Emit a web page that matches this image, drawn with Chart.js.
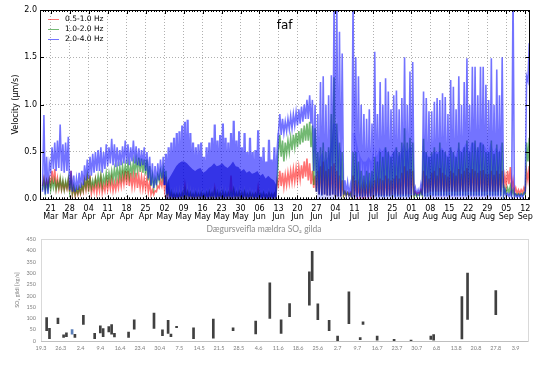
<!DOCTYPE html>
<html>
<head>
<meta charset="utf-8">
<script src="https://cdn.jsdelivr.net/npm/chart.js@4/dist/chart.umd.min.js"></script>
<style>
  body { margin: 0; background: #fff; width: 540px; height: 366px; overflow: hidden; }
  #velocityChart { position: absolute; left: 0; top: 0; }
  #so2Chart { position: absolute; left: 0; top: 222px; }
</style>
</head>
<body>
<canvas id="velocityChart" width="540" height="222"></canvas>
<canvas id="so2Chart" width="540" height="144"></canvas>
<script>
// Velocity: one low and one high value per day, first day 18 Mar (day 0 = 21 Mar)
const firstDay = -3;
const plotTitle = 'faf';
const bandLabels = ['0.5-1.0 Hz', '1.0-2.0 Hz', '2.0-4.0 Hz'];
const tickDays = ['21', '28', '04', '11', '18', '25', '02', '09', '16', '23', '30', '06', '13',
                  '20', '27', '04', '11', '18', '25', '01', '08', '15', '22', '29', '05', '12'];
const tickMonths = ['Mar', 'Mar', 'Apr', 'Apr', 'Apr', 'Apr', 'May', 'May', 'May', 'May', 'May', 'Jun', 'Jun',
                    'Jun', 'Jun', 'Jul', 'Jul', 'Jul', 'Jul', 'Aug', 'Aug', 'Aug', 'Aug', 'Aug', 'Sep', 'Sep'];

const blueHigh = [0.89, 0.45, 0.38,
  0.55, 0.60, 0.62, 0.79, 0.58, 0.60, 0.66,   // 21 Mar
  0.30, 0.25, 0.22, 0.28, 0.30, 0.36, 0.42,   // 28 Mar
  0.45, 0.48, 0.50, 0.52, 0.55, 0.50, 0.58,   // 04 Apr
  0.55, 0.64, 0.58, 0.55, 0.52, 0.56, 0.62,   // 11 Apr
  0.58, 0.55, 0.62, 0.56, 0.54, 0.52, 0.55,   // 18 Apr
  0.50, 0.45, 0.38, 0.35, 0.38, 0.42, 0.45,   // 25 Apr
  0.48, 0.55, 0.60, 0.65, 0.70, 0.72, 0.78,   // 02 May
  0.82, 0.84, 0.70, 0.60, 0.55, 0.58, 0.60,   // 09 May
  0.45, 0.55, 0.60, 0.65, 0.79, 0.62, 0.68,   // 16 May
  0.80, 0.65, 0.60, 0.70, 0.83, 0.62, 0.72,   // 23 May
  0.55, 0.70, 0.50, 0.65, 0.50, 0.52, 0.73,   // 30 May
  0.45, 0.55, 0.40, 0.63, 0.42, 0.55, 0.45,   // 06 Jun
  0.90, 0.85, 0.82, 0.85, 0.88, 0.90, 0.92,   // 13 Jun
  0.95, 0.98, 1.00, 1.05, 1.10, 1.05, 1.00,   // 20 Jun
  0.90, 1.24, 1.30, 1.00, 1.10, 1.31, 2.10,   // 27 Jun
  2.10, 1.77, 1.54, 0.20, 0.18, 0.15, 2.10,   // 04 Jul
  1.50, 1.30, 1.00, 0.90, 0.85, 0.95, 0.80,   // 11 Jul
  1.56, 0.90, 1.24, 1.00, 1.28, 1.14, 0.95,   // 18 Jul
  1.10, 1.15, 0.95, 1.07, 1.50, 1.00, 1.35,   // 25 Jul
  1.45, 0.12, 0.10, 0.15, 1.14, 1.07, 0.93,   // 01 Aug
  0.93, 1.03, 1.07, 1.05, 1.12, 1.08, 0.90,   // 08 Aug
  1.26, 1.19, 0.95, 1.30, 1.00, 1.24, 1.49,   // 15 Aug
  1.00, 1.40, 1.40, 1.10, 1.40, 1.40, 1.21,   // 22 Aug
  1.05, 1.49, 1.00, 1.37, 1.10, 1.50, 0.10,   // 29 Aug
  0.06, 0.07, 2.20, 0.05, 0.05, 0.05, 0.06,   // 05 Sep
  1.30, 1.65];
const blueLow = [0.08, 0.05, 0.06,
  0.30, 0.32, 0.30, 0.33, 0.30, 0.28, 0.30,
  0.10, 0.08, 0.08, 0.10, 0.12, 0.15, 0.20,
  0.22, 0.25, 0.28, 0.30, 0.30, 0.28, 0.32,
  0.35, 0.38, 0.36, 0.34, 0.35, 0.36, 0.38,
  0.38, 0.36, 0.40, 0.38, 0.36, 0.35, 0.36,
  0.30, 0.22, 0.15, 0.12, 0.15, 0.20, 0.22,
  0.15, 0.06, 0.03, 0.02, 0.02, 0.02, 0.03,
  0.03, 0.04, 0.03, 0.03, 0.02, 0.03, 0.03,
  0.03, 0.03, 0.02, 0.03, 0.03, 0.02, 0.03,
  0.03, 0.02, 0.03, 0.03, 0.02, 0.03, 0.03,
  0.03, 0.02, 0.03, 0.02, 0.03, 0.02, 0.02,
  0.02, 0.01, 0.02, 0.01, 0.02, 0.01, 0.02,
  0.70, 0.68, 0.70, 0.72, 0.74, 0.75, 0.78,
  0.78, 0.80, 0.82, 0.85, 0.85, 0.80, 0.30,
  0.08, 0.05, 0.04, 0.05, 0.04, 0.04, 0.05,
  0.04, 0.03, 0.03, 0.05, 0.06, 0.05, 0.02,
  0.03, 0.02, 0.03, 0.02, 0.03, 0.02, 0.03,
  0.02, 0.03, 0.02, 0.03, 0.02, 0.03, 0.03,
  0.03, 0.02, 0.03, 0.02, 0.03, 0.03, 0.02,
  0.03, 0.04, 0.05, 0.05, 0.04, 0.03, 0.03,
  0.03, 0.03, 0.03, 0.03, 0.03, 0.03, 0.03,
  0.03, 0.03, 0.03, 0.03, 0.03, 0.03, 0.03,
  0.03, 0.03, 0.03, 0.03, 0.03, 0.03, 0.03,
  0.03, 0.03, 0.03, 0.03, 0.03, 0.03, 0.04,
  0.03, 0.03, 0.02, 0.02, 0.02, 0.02, 0.02,
  0.08, 1.25];
// top of the dense part of the blue band, from 2 May
const coreFirstDay = 42;
const blueCore = [
  0.12, 0.20, 0.25, 0.30, 0.35, 0.38, 0.40,   // 02 May
  0.40, 0.38, 0.35, 0.32, 0.30, 0.32, 0.33,   // 09 May
  0.28, 0.30, 0.33, 0.35, 0.38, 0.35, 0.36,   // 16 May
  0.38, 0.35, 0.33, 0.36, 0.40, 0.35, 0.34,   // 23 May
  0.30, 0.32, 0.28, 0.30, 0.27, 0.28, 0.30,   // 30 May
  0.25, 0.27, 0.22, 0.25, 0.22, 0.20, 0.15,   // 06 Jun
  null, null, null, null, null, null, null,   // 13 Jun
  null, null, null, null, null, null, null,   // 20 Jun
  0.35, 0.45, 0.50, 0.40, 0.45, 0.55, 0.80,   // 27 Jun
  0.80, 0.60, 0.50, null, null, null, 0.70,   // 04 Jul
  0.70, 0.55, 0.45, 0.40, 0.40, 0.45, 0.40,   // 11 Jul
  0.60, 0.45, 0.55, 0.50, 0.55, 0.50, 0.45,   // 18 Jul
  0.50, 0.55, 0.45, 0.50, 0.60, 0.50, 0.55,   // 25 Jul
  0.55, null, null, null, 0.50, 0.50, 0.45,   // 01 Aug
  0.45, 0.50, 0.50, 0.50, 0.55, 0.50, 0.45,   // 08 Aug
  0.55, 0.50, 0.45, 0.55, 0.50, 0.55, 0.60,   // 15 Aug
  0.50, 0.60, 0.60, 0.50, 0.60, 0.60, 0.55,   // 22 Aug
  0.50, 0.60, 0.50, 0.55, 0.50, 0.60, null];  // 29 Aug

const greenHigh = [0.20, 0.18, 0.20,
  0.20, 0.20, 0.18, 0.22, 0.20, 0.19, 0.22,
  0.20, 0.14, 0.12, 0.13, 0.15, 0.20, 0.25,
  0.22, 0.20, 0.22, 0.25, 0.26, 0.24, 0.28,
  0.28, 0.30, 0.32, 0.33, 0.34, 0.35, 0.36,
  0.38, 0.36, 0.40, 0.42, 0.44, 0.43, 0.42,
  0.42, 0.35, 0.25, 0.22, 0.26, 0.30, 0.32,
  0.30, 0.15, 0.08, 0.06, 0.06, 0.06, 0.07,
  0.10, 0.08, 0.07, 0.06, 0.07, 0.06, 0.07,
  0.06, 0.07, 0.08, 0.07, 0.09, 0.08, 0.07,
  0.08, 0.07, 0.07, 0.08, 0.10, 0.07, 0.08,
  0.07, 0.08, 0.06, 0.07, 0.06, 0.06, 0.08,
  0.06, 0.07, 0.05, 0.07, 0.06, 0.06, 0.20,
  0.68, 0.62, 0.60, 0.62, 0.65, 0.68, 0.70,
  0.72, 0.75, 0.78, 0.80, 0.82, 0.78, 0.75,
  0.50, 0.55, 0.60, 0.50, 0.55, 0.90, 1.29,
  0.80, 0.60, 0.50, 0.08, 0.07, 0.06, 0.50,
  0.50, 0.40, 0.30, 0.25, 0.30, 0.28, 0.30,
  0.45, 0.40, 0.50, 0.45, 0.55, 0.50, 0.45,
  0.50, 0.55, 0.50, 0.60, 0.75, 0.60, 0.65,
  0.60, 0.06, 0.05, 0.08, 0.64, 0.50, 0.45,
  0.50, 0.55, 0.48, 0.60, 0.52, 0.50, 0.45,
  0.55, 0.50, 0.45, 0.60, 0.50, 0.55, 0.62,
  0.50, 0.60, 0.62, 0.55, 0.60, 0.58, 0.50,
  0.50, 0.62, 0.48, 0.58, 0.50, 0.60, 0.12,
  0.12, 0.14, 0.10, 0.06, 0.06, 0.06, 0.07,
  0.60, 0.65];
const greenLow = [0.10, 0.08, 0.10,
  0.10, 0.12, 0.10, 0.12, 0.11, 0.10, 0.12,
  0.08, 0.06, 0.05, 0.06, 0.07, 0.09, 0.12,
  0.12, 0.12, 0.14, 0.15, 0.16, 0.14, 0.17,
  0.18, 0.19, 0.20, 0.21, 0.22, 0.23, 0.24,
  0.25, 0.24, 0.27, 0.28, 0.30, 0.29, 0.28,
  0.26, 0.20, 0.14, 0.12, 0.16, 0.20, 0.22,
  0.15, 0.04, 0.02, 0.02, 0.02, 0.02, 0.02,
  0.02, 0.02, 0.02, 0.02, 0.02, 0.02, 0.02,
  0.02, 0.02, 0.02, 0.02, 0.02, 0.02, 0.02,
  0.02, 0.02, 0.02, 0.02, 0.02, 0.02, 0.02,
  0.02, 0.02, 0.02, 0.02, 0.02, 0.02, 0.02,
  0.02, 0.02, 0.02, 0.02, 0.02, 0.02, 0.02,
  0.50, 0.45, 0.40, 0.48, 0.50, 0.52, 0.55,
  0.55, 0.58, 0.60, 0.62, 0.62, 0.55, 0.15,
  0.08, 0.05, 0.04, 0.05, 0.04, 0.04, 0.05,
  0.03, 0.03, 0.03, 0.04, 0.04, 0.04, 0.02,
  0.03, 0.03, 0.03, 0.03, 0.03, 0.03, 0.03,
  0.03, 0.03, 0.03, 0.03, 0.03, 0.03, 0.03,
  0.03, 0.03, 0.03, 0.03, 0.03, 0.03, 0.03,
  0.03, 0.03, 0.03, 0.04, 0.04, 0.03, 0.03,
  0.04, 0.04, 0.04, 0.04, 0.04, 0.04, 0.04,
  0.04, 0.04, 0.04, 0.04, 0.04, 0.04, 0.04,
  0.04, 0.04, 0.04, 0.04, 0.04, 0.04, 0.04,
  0.04, 0.04, 0.04, 0.04, 0.04, 0.04, 0.04,
  0.06, 0.07, 0.05, 0.04, 0.04, 0.04, 0.04,
  0.05, 0.40];

const redHigh = [0.22, 0.20, 0.22,
  0.30, 0.32, 0.22, 0.20, 0.18, 0.17, 0.20,
  0.30, 0.12, 0.10, 0.12, 0.14, 0.20, 0.22,
  0.25, 0.15, 0.20, 0.18, 0.22, 0.16, 0.20,
  0.20, 0.22, 0.18, 0.20, 0.24, 0.26, 0.30,
  0.30, 0.28, 0.26, 0.28, 0.25, 0.24, 0.22,
  0.22, 0.18, 0.10, 0.09, 0.14, 0.20, 0.24,
  0.24, 0.10, 0.06, 0.05, 0.05, 0.05, 0.06,
  0.15, 0.07, 0.06, 0.05, 0.06, 0.05, 0.06,
  0.05, 0.06, 0.07, 0.06, 0.12, 0.06, 0.06,
  0.07, 0.06, 0.06, 0.25, 0.10, 0.06, 0.07,
  0.06, 0.07, 0.05, 0.06, 0.05, 0.06, 0.13,
  0.05, 0.06, 0.05, 0.06, 0.05, 0.06, 0.20,
  0.30, 0.28, 0.26, 0.28, 0.30, 0.32, 0.33,
  0.34, 0.36, 0.40, 0.43, 0.38, 0.30, 0.25,
  0.30, 0.35, 0.40, 0.30, 0.32, 0.35, 0.38,
  0.30, 0.25, 0.20, 0.08, 0.07, 0.07, 0.25,
  0.20, 0.15, 0.12, 0.15, 0.12, 0.14, 0.15,
  0.20, 0.18, 0.22, 0.20, 0.25, 0.22, 0.20,
  0.22, 0.25, 0.22, 0.28, 0.35, 0.30, 0.32,
  0.30, 0.08, 0.07, 0.10, 0.30, 0.25, 0.22,
  0.28, 0.30, 0.25, 0.33, 0.28, 0.26, 0.24,
  0.30, 0.28, 0.25, 0.32, 0.27, 0.30, 0.33,
  0.28, 0.32, 0.30, 0.28, 0.30, 0.31, 0.27,
  0.27, 0.30, 0.26, 0.30, 0.27, 0.30, 0.25,
  0.30, 0.34, 0.20, 0.12, 0.10, 0.10, 0.12,
  0.30, 0.35];
const redLow = [0.14, 0.12, 0.14,
  0.15, 0.16, 0.12, 0.11, 0.10, 0.10, 0.11,
  0.08, 0.05, 0.04, 0.05, 0.06, 0.08, 0.10,
  0.08, 0.06, 0.08, 0.07, 0.09, 0.07, 0.09,
  0.10, 0.11, 0.09, 0.10, 0.12, 0.14, 0.16,
  0.15, 0.14, 0.13, 0.14, 0.12, 0.12, 0.11,
  0.11, 0.08, 0.05, 0.05, 0.08, 0.12, 0.14,
  0.10, 0.03, 0.02, 0.02, 0.02, 0.02, 0.02,
  0.02, 0.02, 0.02, 0.02, 0.02, 0.02, 0.02,
  0.02, 0.02, 0.02, 0.02, 0.02, 0.02, 0.02,
  0.02, 0.02, 0.02, 0.02, 0.02, 0.02, 0.02,
  0.02, 0.02, 0.02, 0.02, 0.02, 0.02, 0.02,
  0.02, 0.02, 0.02, 0.02, 0.02, 0.02, 0.02,
  0.15, 0.14, 0.13, 0.15, 0.17, 0.18, 0.19,
  0.20, 0.21, 0.22, 0.24, 0.20, 0.16, 0.12,
  0.08, 0.05, 0.05, 0.05, 0.04, 0.04, 0.05,
  0.03, 0.03, 0.03, 0.04, 0.04, 0.04, 0.02,
  0.03, 0.03, 0.03, 0.03, 0.03, 0.03, 0.03,
  0.04, 0.04, 0.04, 0.04, 0.04, 0.04, 0.04,
  0.05, 0.05, 0.05, 0.05, 0.05, 0.05, 0.05,
  0.05, 0.05, 0.05, 0.06, 0.06, 0.06, 0.07,
  0.08, 0.08, 0.08, 0.08, 0.08, 0.08, 0.08,
  0.08, 0.08, 0.08, 0.08, 0.08, 0.08, 0.08,
  0.08, 0.08, 0.08, 0.08, 0.08, 0.08, 0.08,
  0.08, 0.08, 0.08, 0.08, 0.08, 0.08, 0.12,
  0.14, 0.16, 0.10, 0.07, 0.06, 0.06, 0.07,
  0.08, 0.20];

// SO2: daily low/high, dates as day.month
const so2Title = 'Dægursveifla mældra SO₂ gilda';
const so2AxisTitle = 'SO₂ gildi [kg/s]';
const so2Ticks = ['19.3', '26.3', '2.4', '9.4', '16.4', '23.4', '30.4', '7.5', '14.5', '21.5', '28.5', '4.6', '11.6',
                  '18.6', '25.6', '2.7', '9.7', '16.7', '23.7', '30.7', '6.8', '13.8', '20.8', '27.8', '3.9'];
const so2Dates = ['21.3', '22.3', '25.3', '27.3', '28.3', '30.3', '31.3', '3.4', '7.4', '9.4', '10.4', '12.4',
                  '13.4', '14.4', '19.4', '21.4', '28.4', '1.5', '3.5', '4.5', '6.5', '12.5', '19.5', '26.5',
                  '3.6', '8.6', '12.6', '15.6', '22.6', '23.6', '25.6', '29.6', '2.7', '6.7', '10.7', '11.7',
                  '16.7', '22.7', '28.7', '4.8', '5.8', '15.8', '17.8', '27.8'];
const so2Low = [46, 10, 77, 16, 19, 30, 16, 73, 10, 36, 19, 40,
                30, 18, 16, 52, 56, 24, 34, 19, 59, 10, 13, 46,
                31, 100, 34, 108, 159, 267, 94, 46, 0, 77, 6, 73,
                4, 0, 0, 7, 4, 9, 95, 117];
const so2High = [104, 56, 101, 27, 36, 50, 30, 114, 34, 67, 55, 64,
                 73, 34, 39, 94, 123, 49, 92, 31, 65, 58, 97, 58,
                 88, 257, 94, 166, 306, 397, 165, 91, 22, 218, 15, 85,
                 22, 7, 4, 22, 28, 196, 300, 223];
const highlightDate = '30.3';

// days since 19 Mar for a "d.m" string
function dayOf(s) {
  const [d, m] = s.split('.').map(Number);
  const monthStart = { 3: 0, 4: 31, 5: 61, 6: 92, 7: 122, 8: 153, 9: 184 };
  return monthStart[m] + d - 19;
}

function zigzag(low, high) {
  const pts = [];
  low.forEach((v, i) => {
    pts.push({ x: firstDay + i, y: v });
    pts.push({ x: firstDay + i + 0.5, y: high[i] });
  });
  return pts;
}

const mplFont = { family: 'DejaVu Sans', size: 8 };

// matplotlib style frame, inward ticks, title and legend
const velocityFrame = {
  id: 'velocityFrame',
  afterDraw(chart) {
    const { ctx, chartArea: a, scales: { x, y } } = chart;
    ctx.save();
    ctx.strokeStyle = '#000';
    ctx.lineWidth = 1;
    ctx.beginPath();
    for (let d = Math.ceil(x.min); d <= x.max; d++) {
      const px = Math.round(x.getPixelForValue(d)) + 0.5;
      const len = d % 7 === 0 ? 4 : 2;
      ctx.moveTo(px, a.bottom); ctx.lineTo(px, a.bottom - len);
      ctx.moveTo(px, a.top); ctx.lineTo(px, a.top + len);
    }
    y.ticks.forEach(t => {
      const py = Math.round(y.getPixelForValue(t.value)) + 0.5;
      ctx.moveTo(a.left, py); ctx.lineTo(a.left + 4, py);
      ctx.moveTo(a.right, py); ctx.lineTo(a.right - 4, py);
    });
    ctx.stroke();
    ctx.strokeRect(Math.round(a.left) + 0.5, Math.round(a.top) + 0.5,
                   Math.round(a.width), Math.round(a.height));

    ctx.fillStyle = '#000';
    ctx.font = '12px "DejaVu Sans"';
    ctx.textAlign = 'center';
    ctx.textBaseline = 'alphabetic';
    ctx.fillText(plotTitle, (a.left + a.right) / 2, 28.5);

    ctx.font = '7.5px "DejaVu Sans"';
    ctx.textAlign = 'left';
    ctx.textBaseline = 'middle';
    ctx.lineWidth = 1;
    chart.data.datasets.slice(0, 3).forEach((ds, i) => {
      const ly = 19.5 + i * 10;
      ctx.strokeStyle = ds.borderColor;
      ctx.beginPath();
      ctx.moveTo(a.left + 8, ly); ctx.lineTo(a.left + 19, ly);
      ctx.stroke();
      ctx.fillText(ds.label, a.left + 25, ly);
    });
    ctx.restore();
  }
};

new Chart(document.getElementById('velocityChart'), {
  type: 'line',
  data: {
    datasets: [
      { label: bandLabels[0], data: zigzag(redLow, redHigh), borderColor: 'rgba(255,0,0,0.55)', order: 4 },
      { label: bandLabels[1], data: zigzag(greenLow, greenHigh), borderColor: 'rgba(0,128,0,0.55)', order: 3 },
      {
        label: bandLabels[2], data: zigzag(blueLow, blueHigh), borderColor: 'rgba(0,0,255,0.55)', order: 1,
        segment: { borderWidth: c => (c.p0.parsed.x >= 42 && c.p0.parsed.x < 84) ? 2.2 : 1.6 }
      },
      {
        label: 'core', order: 2,
        data: blueCore.map((v, i) => ({ x: coreFirstDay + i + 0.25, y: v })),
        borderColor: 'transparent', borderWidth: 0, fill: 'origin',
        segment: { backgroundColor: c => c.p0.parsed.x < 90 ? 'rgba(0,0,160,0.55)' : 'rgba(0,0,255,0.2)' }
      }
    ]
  },
  options: {
    responsive: false,
    animation: false,
    events: [],
    elements: { line: { borderWidth: 1.6, tension: 0 }, point: { radius: 0 } },
    layout: { padding: { top: 10, right: 10.7, left: 0, bottom: 0 } },
    plugins: { legend: { display: false }, tooltip: { enabled: false } },
    scales: {
      x: {
        type: 'linear', min: -3.94, max: 176.5,
        afterBuildTicks: s => { s.ticks = tickDays.map((_, i) => ({ value: i * 7 })); },
        afterFit: s => { s.height = 22.7; },
        grid: { color: '#b0b0b0', drawTicks: false },
        border: { display: false, dash: [1, 2] },
        ticks: {
          padding: 6, maxRotation: 0, autoSkip: false, color: '#000',
          font: { ...mplFont, lineHeight: 1.0 },
          callback: (v, i) => [tickDays[i], tickMonths[i]]
        }
      },
      y: {
        min: 0, max: 2,
        afterFit: s => { s.width = 40; },
        grid: { color: '#b0b0b0', drawTicks: false },
        border: { display: false, dash: [1, 2] },
        ticks: { stepSize: 0.5, padding: 3, color: '#000', font: mplFont, callback: v => v.toFixed(1) },
        title: { display: true, text: 'Velocity (μm/s)', color: '#000', font: mplFont, padding: { top: 11, bottom: 0 } }
      }
    }
  },
  plugins: [velocityFrame]
});

// light gray plot border like the spreadsheet chart
const so2Frame = {
  id: 'so2Frame',
  afterDraw(chart) {
    const { ctx, chartArea: a } = chart;
    ctx.save();
    ctx.lineWidth = 1;
    ctx.strokeStyle = '#d9d9d9';
    ctx.strokeRect(Math.round(a.left) + 0.5, Math.round(a.top) + 0.5,
                   Math.round(a.width), Math.round(a.height));
    ctx.strokeStyle = '#bfbfbf';
    ctx.beginPath();
    ctx.moveTo(a.left, Math.round(a.bottom) + 0.5);
    ctx.lineTo(a.right, Math.round(a.bottom) + 0.5);
    ctx.stroke();
    ctx.restore();
  }
};

const xlFont = { family: 'Lato', size: 5.5 };

new Chart(document.getElementById('so2Chart'), {
  type: 'bar',
  data: {
    datasets: [{
      data: so2Dates.map((d, i) => ({ x: dayOf(d), y: [so2Low[i], so2High[i]] })),
      backgroundColor: so2Dates.map(d => d === highlightDate ? '#5b7fb8' : '#404040'),
      barThickness: 2
    }]
  },
  options: {
    responsive: false,
    animation: false,
    events: [],
    layout: { padding: { top: 0, right: 12, left: 0, bottom: 0 } },
    plugins: {
      legend: { display: false },
      tooltip: { enabled: false },
      title: {
        display: true, text: so2Title, color: '#8c8c8c',
        font: { family: 'Lato', size: 8.5, weight: 'normal' },
        padding: { top: 2.2, bottom: 4.9 }
      }
    },
    scales: {
      x: {
        type: 'linear', min: 0, max: 172.4, offset: false,
        afterBuildTicks: s => { s.ticks = so2Ticks.map(t => ({ value: dayOf(t) })); },
        afterFit: s => { s.height = 25; },
        grid: { display: false, offset: false, drawTicks: false },
        border: { display: false },
        ticks: { autoSkip: false, maxRotation: 0, padding: 4, color: '#808080', font: xlFont,
                 callback: (v, i) => so2Ticks[i] }
      },
      y: {
        min: 0, max: 450,
        afterFit: s => { s.width = 41; },
        grid: { display: false, drawTicks: false },
        border: { display: false },
        ticks: { stepSize: 50, padding: 5, color: '#808080', font: xlFont },
        title: { display: true, text: so2AxisTitle, color: '#808080', font: xlFont, padding: { top: 13.7, bottom: 0 } }
      }
    }
  },
  plugins: [so2Frame]
});
</script>
</body>
</html>
